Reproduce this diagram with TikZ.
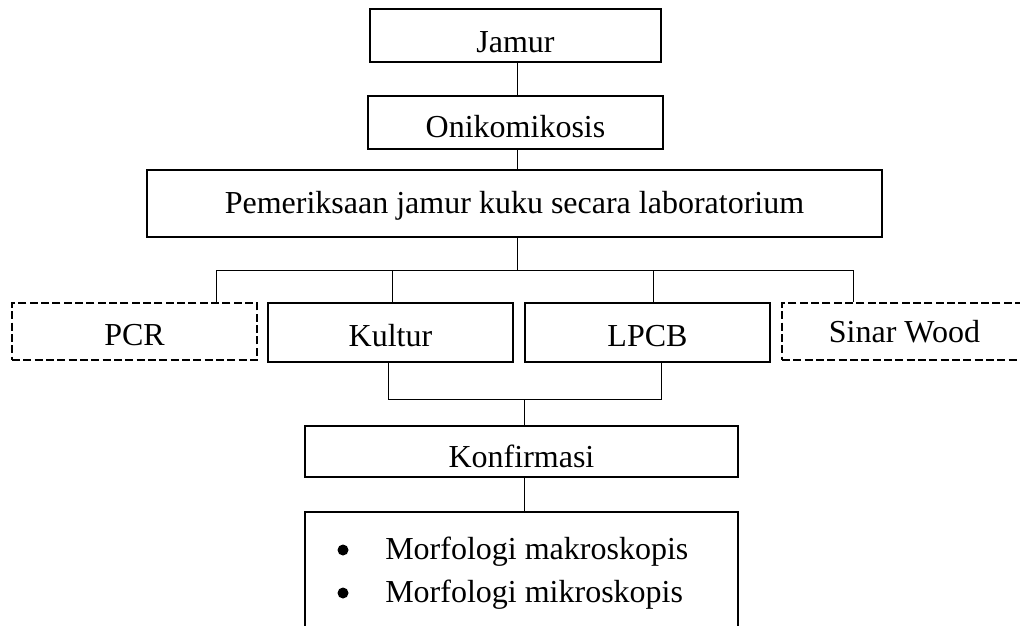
\documentclass[tikz,border=0pt]{standalone}
\usepackage{fontspec}
\setmainfont{Liberation Serif}
\begin{document}
\begin{tikzpicture}[x=0.75pt,y=-0.75pt,
  box/.style={draw, line width=1.5pt, rectangle, inner sep=0pt, font=\fontsize{24}{29}\selectfont},
  dbox/.style={box, line width=1.4pt, dash pattern=on 6pt off 2.5pt},
  off/.style={text height=#1*1.5pt, text depth=0pt},
  conn/.style={line width=0.75pt},
  dot/.style={circle, fill, inner sep=0pt, minimum size=11*0.75pt},
  itemtext/.style={anchor=base west, inner sep=0pt, font=\fontsize{24}{29}\selectfont}]
\useasboundingbox (0,0) rectangle (1020,625);
\node[box, off=16.5, minimum width=291*0.75pt, minimum height=53*0.75pt] (jamur) at (515.5,35.5) {Jamur};
\node[box, off=14.5, minimum width=295*0.75pt, minimum height=53*0.75pt] (oni) at (515.5,122.5) {Onikomikosis};
\node[box, off=9.5, minimum width=735*0.75pt, minimum height=67*0.75pt] (pem) at (514.5,203.5) {Pemeriksaan jamur kuku secara laboratorium};
\node[dbox, off=14, minimum width=245*0.75pt, minimum height=57*0.75pt] (pcr) at (134.5,331.5) {PCR};
\node[box, off=13.5, minimum width=245*0.75pt, minimum height=59*0.75pt] (kultur) at (390.5,332.5) {Kultur};
\node[box, off=13.5, minimum width=245*0.75pt, minimum height=59*0.75pt] (lpcb) at (647.5,332.5) {LPCB};
\node[dbox, off=11, minimum width=245*0.75pt, minimum height=57*0.75pt] (sinar) at (904.5,331.5) {Sinar Wood};
\node[box, off=15.5, minimum width=433*0.75pt, minimum height=51*0.75pt] (konf) at (521.5,451.5) {Konfirmasi};
\node[inner sep=0pt, minimum width=433*0.75pt, minimum height=130*0.75pt] (morf) at (521.5,577) {};
\draw[line width=1.5pt] (morf.south west) |- (morf.north east) -- (morf.south east);
\node[dot] (b1) at (343,550) {};
\node[dot] (b2) at (343,593) {};
\node[itemtext] (t1) at (385,559) {Morfologi makroskopis};
\node[itemtext] (t2) at (385,602) {Morfologi mikroskopis};
% connectors
\coordinate (busmid) at (517,270);
\draw[conn] (517,0 |- jamur.south) -- (517,0 |- oni.north);
\draw[conn] (517,0 |- oni.south) -- (517,0 |- pem.north);
\draw[conn] (517,0 |- pem.south) -- (busmid);
\coordinate (bpcr) at (216,270);
\coordinate (bkul) at (392,270);
\coordinate (blp) at (653,270);
\coordinate (bsin) at (853,270);
\draw[conn] (bpcr |- pcr.north) -- (bpcr) -- (bsin) -- (bsin |- sinar.north);
\draw[conn] (bkul) -- (bkul |- kultur.north);
\draw[conn] (blp) -- (blp |- lpcb.north);
\coordinate (jk) at (388,399);
\coordinate (jl) at (661,399);
\coordinate (jm) at (524,399);
\draw[conn] (jk |- kultur.south) -- (jk) -- (jl) -- (jl |- lpcb.south);
\draw[conn] (jm) -- (jm |- konf.north);
\draw[conn] (jm |- konf.south) -- (jm |- morf.north);
\end{tikzpicture}
\end{document}
